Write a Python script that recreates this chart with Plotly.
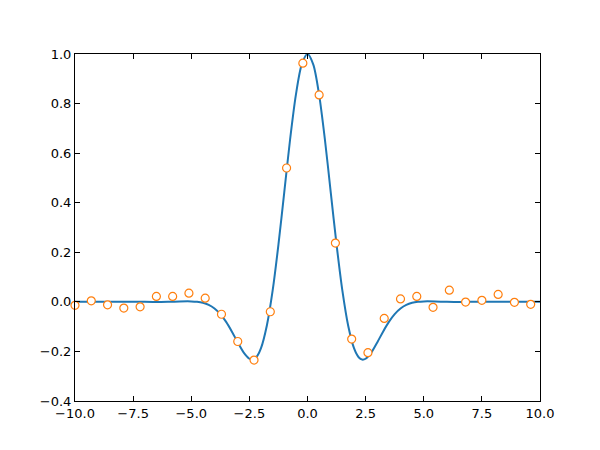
import plotly.graph_objects as go

# sampled observations (orange open circles)
obs_x = [-10.0, -9.3, -8.6, -7.9, -7.2, -6.5, -5.8, -5.1, -4.4, -3.7, -3.0, -2.3, -1.6, -0.9, -0.2,
         0.5, 1.2, 1.9, 2.6, 3.3, 4.0, 4.7, 5.4, 6.1, 6.8, 7.5, 8.2, 8.9, 9.6]
obs_y = [-0.014, 0.004, -0.012, -0.025, -0.020, 0.022, 0.022, 0.035, 0.015, -0.050, -0.160, -0.235,
         -0.040, 0.540, 0.963, 0.835, 0.237, -0.150, -0.205, -0.067, 0.012, 0.022, -0.022, 0.047,
         -0.001, 0.006, 0.030, -0.002, -0.010]

# smooth fitted curve (blue line)
curve_x = [-10.0, -7.0, -6.0, -5.5, -5.0, -4.75, -4.5, -4.25, -4.0, -3.75, -3.5, -3.25, -3.0, -2.75,
           -2.5, -2.35, -2.2, -2.0, -1.75, -1.5, -1.25, -1.0, -0.75, -0.5, -0.25, 0.0,
           0.25, 0.5, 0.75, 1.0, 1.25, 1.5, 1.75, 2.0, 2.2, 2.35, 2.5, 2.75, 3.0, 3.25,
           3.5, 3.75, 4.0, 4.25, 4.5, 4.75, 5.0, 5.5, 6.0, 7.0, 10.0]
curve_y = [0.0, 0.0, 0.0, 0.0017, 0.0019, 0.0004, -0.0037, -0.012, -0.0267, -0.0493, -0.0808, -0.1203,
           -0.1636, -0.2037, -0.2295, -0.2329, -0.2235, -0.187, -0.0966, 0.045, 0.231, 0.442, 0.654,
           0.835, 0.957, 1.0,
           0.957, 0.835, 0.654, 0.442, 0.231, 0.045, -0.0966, -0.187, -0.2235, -0.2329, -0.2295,
           -0.2037, -0.1636, -0.1203, -0.0808, -0.0493, -0.0267, -0.012, -0.0037, 0.0004, 0.0019,
           0.0017, 0.0, 0.0, 0.0]

x_ticks = [-10.0, -7.5, -5.0, -2.5, 0.0, 2.5, 5.0, 7.5, 10.0]
y_ticks = [-0.4, -0.2, 0.0, 0.2, 0.4, 0.6, 0.8, 1.0]

fig = go.Figure()
fig.add_trace(go.Scatter(x=curve_x, y=curve_y, mode="lines",
                         line=dict(color="#1f77b4", width=2, shape="spline", smoothing=0.8),
                         showlegend=False, cliponaxis=True))
fig.add_trace(go.Scatter(x=obs_x, y=obs_y, mode="markers",
                         marker=dict(symbol="circle", size=8, color="white",
                                     line=dict(color="#ff7f0e", width=1.2)),
                         showlegend=False, cliponaxis=False))

axis_common = dict(showgrid=False, zeroline=False, showline=True, linecolor="black", linewidth=1,
                   mirror="ticks", ticks="inside", ticklen=5, tickwidth=1, tickcolor="black",
                   tickfont=dict(family="DejaVu Sans", size=13, color="black"))

fig.update_xaxes(range=[-10, 10], tickvals=x_ticks, ticktext=[f"{v:.1f}".replace("-", "\u2212") for v in x_ticks],
                 **axis_common)
fig.update_yaxes(range=[-0.4, 1.0], tickvals=y_ticks, ticktext=[f"{v:.1f}".replace("-", "\u2212") for v in y_ticks],
                 **axis_common)

fig.update_layout(width=600, height=450, margin=dict(l=67, r=68, t=46, b=57),
                  paper_bgcolor="white", plot_bgcolor="white")

fig.write_html("out.html")
